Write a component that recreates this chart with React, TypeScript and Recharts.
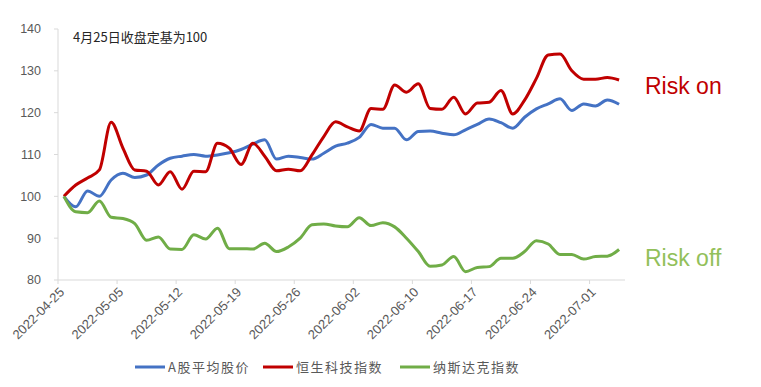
import { LineChart, Line, XAxis, YAxis, Legend } from "recharts";

const dates = [
  "2022-04-25", "2022-04-26", "2022-04-27", "2022-04-28", "2022-04-29",
  "2022-05-05", "2022-05-06", "2022-05-09", "2022-05-10", "2022-05-11",
  "2022-05-12", "2022-05-13", "2022-05-16", "2022-05-17", "2022-05-18",
  "2022-05-19", "2022-05-20", "2022-05-23", "2022-05-24", "2022-05-25",
  "2022-05-26", "2022-05-27", "2022-05-30", "2022-05-31", "2022-06-01",
  "2022-06-02", "2022-06-06", "2022-06-07", "2022-06-08", "2022-06-09",
  "2022-06-10", "2022-06-13", "2022-06-14", "2022-06-15", "2022-06-16",
  "2022-06-17", "2022-06-20", "2022-06-21", "2022-06-22", "2022-06-23",
  "2022-06-24", "2022-06-27", "2022-06-28", "2022-06-29", "2022-06-30",
  "2022-07-01", "2022-07-04", "2022-07-05",
];

// A股平均股价
const aShareAvg = [
  100, 97.5, 101.3, 100, 103.9, 105.5, 104.5, 105.1, 107.5, 109.1,
  109.6, 110.0, 109.6, 109.9, 110.4, 111.2, 112.5, 113.5, 108.9, 109.6,
  109.3, 108.9, 110.3, 112.0, 112.7, 114.1, 117.2, 116.3, 116.3, 113.5,
  115.5, 115.6, 115.1, 114.7, 115.9, 117.2, 118.5, 117.6, 116.3, 118.9,
  120.9, 122.1, 123.3, 120.5, 122.1, 121.6, 123.0, 122.0,
];

// 恒生科技指数
const hangSengTech = [
  100, 102.7, 104.4, 106.3, 117.7, 111.5, 106.3, 106, 102.7, 105.9,
  101.7, 106, 105.9, 112.7, 111.5, 107.6, 112.7, 109.6, 106.1, 106.5,
  106.1, 109.9, 114.3, 117.8, 116.6, 115.6, 121.0, 120.8, 126.6, 124.9,
  126.9, 121.0, 120.8, 123.7, 119.7, 122.3, 122.5, 125.3, 119.7, 123.0,
  128.2, 133.8, 134.0, 130.0, 128.0, 128.0, 128.4, 127.8,
];

// 纳斯达克指数
const nasdaq = [
  100, 96.3, 96.1, 98.9, 95.0, 94.7, 93.5, 89.5, 90.3, 87.4,
  87.3, 90.8, 89.8, 92.4, 87.5, 87.5, 87.4, 88.8, 86.8, 87.9,
  90.0, 93.2, 93.4, 92.9, 92.7, 94.9, 93.0, 93.7, 92.7, 90.0,
  86.8, 83.3, 83.6, 85.6, 82.0, 83.0, 83.2, 85.2, 85.2, 86.8,
  89.4, 88.6, 86.1, 86.1, 85.0, 85.6, 85.7, 87.3,
];

const seriesNames = ["A股平均股价", "恒生科技指数", "纳斯达克指数"];
const seriesColors = ["#4472C4", "#C00000", "#70AD47"];
const yTicks = [80, 90, 100, 110, 120, 130, 140];
// a labelled tick every 5 trading days, placed on the category boundary
const xTicks = [0, 5, 10, 15, 20, 25, 30, 35, 40, 45].map((i) => i - 0.5);

const data = dates.map((d, i) => ({
  idx: i,
  date: d,
  a: aShareAvg[i],
  hs: hangSengTech[i],
  nq: nasdaq[i],
}));

const latin = "'Liberation Sans', Arial, sans-serif";
const cjk = "'Noto Sans CJK SC', sans-serif";

const DateTick = (props: any) => {
  const { x, y, payload } = props;
  const label = dates[Math.round(payload.value + 0.5)];
  const ax = x + 7;
  const ay = y + 9;
  return (
    <text
      x={ax}
      y={ay}
      transform={`rotate(-45, ${ax}, ${ay})`}
      textAnchor="end"
      fill="#595959"
      fontSize={13}
      fontFamily={latin}
    >
      {label}
    </text>
  );
};

const LegendBox = (props: any) => {
  const widths = [128, 137, 120];
  return (
    <div style={{ display: "flex", paddingLeft: 135 }}>
      {props.payload.map((p: any, i: number) => (
        <div
          key={p.value}
          style={{ display: "flex", alignItems: "center", width: widths[i] }}
        >
          <svg width={30} height={4} style={{ marginRight: 3 }}>
            <line x1={0} y1={2} x2={30} y2={2} stroke={p.color} strokeWidth={3} />
          </svg>
          <span
            style={{
              fontFamily: cjk,
              fontSize: 13,
              color: "#595959",
              letterSpacing: 1.5,
            }}
          >
            {p.value}
          </span>
        </div>
      ))}
    </div>
  );
};

export default function App() {
  return (
    <div style={{ position: "absolute", left: 0, top: 0, width: 761, height: 387, background: "#fff" }}>
      <LineChart
        width={761}
        height={387}
        data={data}
        margin={{ top: 29, right: 136, left: 0, bottom: 0 }}
      >
        <XAxis
          type="number"
          dataKey="idx"
          domain={[-0.5, dates.length - 0.5]}
          ticks={xTicks}
          interval={0}
          height={107}
          tickSize={4}
          tickMargin={0}
          stroke="#D9D9D9"
          tick={<DateTick />}
        />
        <YAxis
          domain={[80, 140]}
          ticks={yTicks}
          width={58}
          tickSize={4}
          tickMargin={13}
          stroke="#D9D9D9"
          tick={{ fill: "#595959", fontSize: 12.5, fontFamily: latin }}
        />
        <Legend
          layout="horizontal"
          verticalAlign="middle"
          align="center"
          content={<LegendBox />}
          wrapperStyle={{ top: 357, left: 0, width: 761 }}
        />
        <Line type="monotone" dataKey="a" name={seriesNames[0]} stroke={seriesColors[0]} strokeWidth={3} dot={false} isAnimationActive={false} />
        <Line type="monotone" dataKey="hs" name={seriesNames[1]} stroke={seriesColors[1]} strokeWidth={3} dot={false} isAnimationActive={false} />
        <Line type="monotone" dataKey="nq" name={seriesNames[2]} stroke={seriesColors[2]} strokeWidth={3} dot={false} isAnimationActive={false} />
        <text x={73} y={42} fontFamily={cjk} fontSize={13} fill="#262626">
          4月25日收盘定基为100
        </text>
        <text x={645} y={94} fontFamily={latin} fontSize={23} fill="#C00000">
          Risk on
        </text>
        <text x={645} y={266} fontFamily={latin} fontSize={23} fill="#92C05A">
          Risk off
        </text>
      </LineChart>
    </div>
  );
}
